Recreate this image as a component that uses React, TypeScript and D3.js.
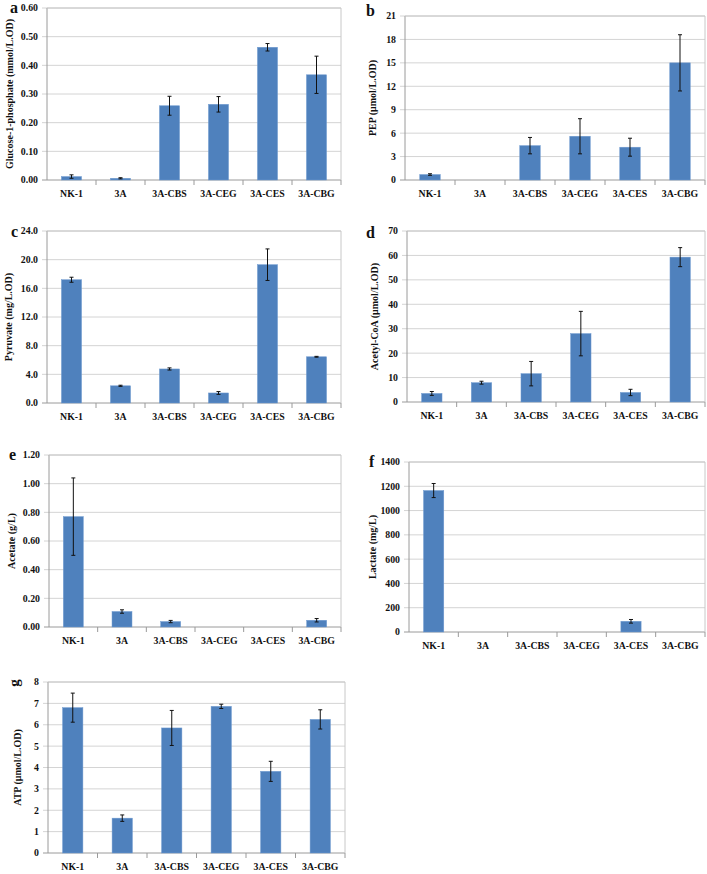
import * as d3 from "d3";

const categories = ["NK-1", "3A", "3A-CBS", "3A-CEG", "3A-CES", "3A-CBG"];

const g1pMean = [0.012, 0.006, 0.259, 0.264, 0.463, 0.367];
const g1pErr = [0.006, 0.002, 0.033, 0.027, 0.013, 0.065];
const pepMean = [0.7, 0, 4.4, 5.6, 4.2, 15.0];
const pepErr = [0.1, 0, 1.05, 2.25, 1.15, 3.6];
const pyrMean = [17.2, 2.4, 4.75, 1.4, 19.3, 6.45];
const pyrErr = [0.35, 0.08, 0.15, 0.2, 2.2, 0.06];
const acoaMean = [3.5, 7.9, 11.6, 28.0, 3.9, 59.3];
const acoaErr = [0.8, 0.6, 5.0, 9.1, 1.3, 3.9];
const acetMean = [0.77, 0.108, 0.038, 0, 0, 0.047];
const acetErr = [0.27, 0.012, 0.008, 0, 0, 0.012];
const lacMean = [1165, 0, 0, 0, 88, 0];
const lacErr = [58, 0, 0, 0, 15, 0];
const atpMean = [6.8, 1.63, 5.85, 6.86, 3.82, 6.25];
const atpErr = [0.68, 0.15, 0.82, 0.1, 0.47, 0.45];

const FONT = "'Liberation Serif', 'Times New Roman', serif";
const BLUE = "#4f81bd";

interface PanelProps {
  letter: string;
  label: string;
  mean: number[];
  err: number[];
  max: number;
  step: number;
  fmt: string;
  x0: number;
  x1: number;
  y0: number;
  y1: number;
  labelX: number;
  letterX: number;
  letterY: number;
  rotateLetter?: boolean;
}

function Panel(p: PanelProps) {
  const x = d3.scaleBand<string>().domain(categories).range([p.x0, p.x1]).paddingInner(0.59).paddingOuter(0.295);
  const y = d3.scaleLinear().domain([0, p.max]).range([p.y1, p.y0]);
  const ticks = d3.range(0, p.max + p.step / 2, p.step);
  const format = d3.format(p.fmt);
  const step = x.step();
  const bandStart = p.x0;
  const midY = (p.y0 + p.y1) / 2;

  return (
    <g>
      {ticks.map((t) => (
        <g key={t}>
          <line x1={p.x0 - 5} x2={p.x1} y1={y(t)} y2={y(t)} stroke={t === 0 ? "#9a9a9a" : "#d4d4d4"} strokeWidth={1} />
          <text x={p.x0 - 9} y={y(t)} dy="0.35em" textAnchor="end" fontSize={9.8} fontWeight="bold" fontFamily={FONT} fill="#111">
            {format(t)}
          </text>
        </g>
      ))}
      <line x1={p.x0} x2={p.x0} y1={p.y0} y2={p.y1} stroke="#9a9a9a" />
      <line x1={p.x1} x2={p.x1} y1={p.y0} y2={p.y1} stroke="#c8c8c8" />
      <line x1={p.x0} x2={p.x1} y1={p.y0} y2={p.y0} stroke="#c8c8c8" />
      {categories.map((c, i) => (
        <line key={c} x1={bandStart + step * (i + 1)} x2={bandStart + step * (i + 1)} y1={p.y1} y2={p.y1 + 5} stroke="#9a9a9a" />
      ))}
      {categories.map((c, i) => {
        const bx = x(c)!;
        const bw = x.bandwidth();
        const cx = bx + bw / 2;
        const m = p.mean[i];
        const e = p.err[i];
        return (
          <g key={c}>
            {m > 0 && <rect x={bx} y={y(m)} width={bw} height={y(0) - y(m)} fill={BLUE} stroke="#6f9ad0" strokeWidth={0.5} />}
            {e > 0 && (
              <g stroke="#111" strokeWidth={1}>
                <line x1={cx} x2={cx} y1={y(m + e)} y2={y(m - e)} />
                <line x1={cx - 2} x2={cx + 2} y1={y(m + e)} y2={y(m + e)} />
                <line x1={cx - 2} x2={cx + 2} y1={y(m - e)} y2={y(m - e)} />
              </g>
            )}
            <text x={cx} y={p.y1 + 17} textAnchor="middle" fontSize={9.8} fontWeight="bold" fontFamily={FONT} fill="#111">
              {c}
            </text>
          </g>
        );
      })}
      <text
        transform={`translate(${p.labelX},${midY}) rotate(-90)`}
        textAnchor="middle"
        dy="0.35em"
        fontSize={10}
        fontWeight="bold"
        fontFamily={FONT}
        fill="#111"
      >
        {p.label}
      </text>
      {p.rotateLetter ? (
        <text
          transform={`translate(${p.letterX},${p.letterY}) rotate(-90)`}
          textAnchor="middle"
          dy="0.3em"
          fontSize={15}
          fontWeight="bold"
          fontFamily={FONT}
          fill="#111"
        >
          {p.letter}
        </text>
      ) : (
        <text x={p.letterX} y={p.letterY} fontSize={16} fontWeight="bold" fontFamily={FONT} fill="#111">
          {p.letter}
        </text>
      )}
    </g>
  );
}

const panels: PanelProps[] = [
  { letter: "a", label: "Glucose-1-phosphate (mmol/L.OD)", mean: g1pMean, err: g1pErr, max: 0.6, step: 0.1, fmt: ".2f", x0: 47, x1: 341, y0: 8, y1: 180, labelX: 9, letterX: 10, letterY: 13 },
  { letter: "b", label: "PEP (μmol/L.OD)", mean: pepMean, err: pepErr, max: 21, step: 3, fmt: "d", x0: 405, x1: 705, y0: 16, y1: 180, labelX: 372, letterX: 366, letterY: 16 },
  { letter: "c", label: "Pyruvate (mg/L.OD)", mean: pyrMean, err: pyrErr, max: 24, step: 4, fmt: ".1f", x0: 47, x1: 341, y0: 231, y1: 403, labelX: 8, letterX: 11, letterY: 237 },
  { letter: "d", label: "Acetyl-CoA (μmol/L.OD)", mean: acoaMean, err: acoaErr, max: 70, step: 10, fmt: "d", x0: 407, x1: 705, y0: 231, y1: 402, labelX: 374, letterX: 366, letterY: 238 },
  { letter: "e", label: "Acetate (g/L)", mean: acetMean, err: acetErr, max: 1.2, step: 0.2, fmt: ".2f", x0: 49, x1: 341, y0: 455, y1: 627, labelX: 11, letterX: 9, letterY: 460 },
  { letter: "f", label: "Lactate (mg/L)", mean: lacMean, err: lacErr, max: 1400, step: 200, fmt: "d", x0: 409, x1: 705, y0: 462, y1: 632, labelX: 372, letterX: 369, letterY: 467 },
  { letter: "g", label: "ATP (μmol/L.OD)", mean: atpMean, err: atpErr, max: 8, step: 1, fmt: "d", x0: 48, x1: 345, y0: 682, y1: 853, labelX: 17, letterX: 14, letterY: 683, rotateLetter: true },
];

export default function App() {
  return (
    <div style={{ position: "absolute", left: 0, top: 0 }}>
      <svg width={707} height={874} style={{ display: "block", background: "#fff" }}>
        {panels.map((p) => (
          <Panel key={p.letter} {...p} />
        ))}
      </svg>
    </div>
  );
}
